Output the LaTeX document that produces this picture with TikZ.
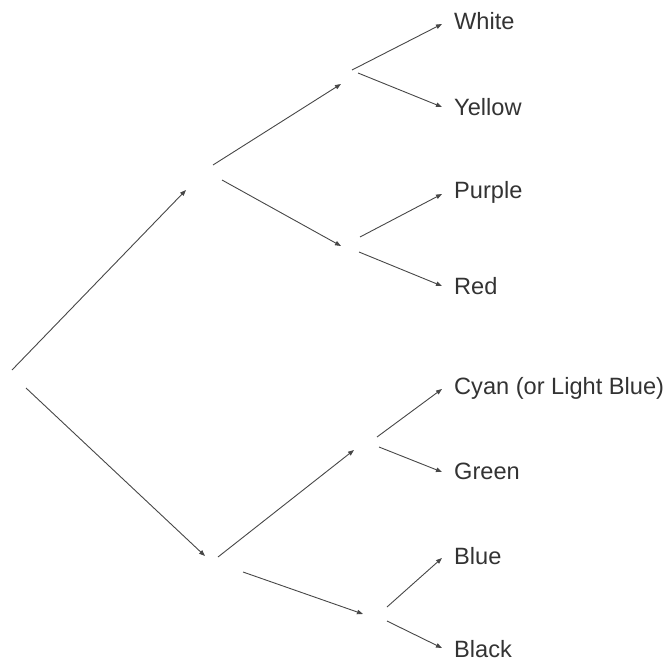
\documentclass[tikz,border=0pt]{standalone}
\usepackage{fontspec}
\setmainfont{Liberation Sans}
\usetikzlibrary{arrows.meta}
\tikzset{
  arr/.style={draw=black!72, line width=0.9pt, -{Triangle[length=6pt,width=4.5pt]}},
  lbl/.style={anchor=west, inner sep=0pt, font=\fontsize{23.6}{26}\selectfont, text=black!80}
}
\begin{document}
\begin{tikzpicture}[x=1pt,y=-1pt]
\useasboundingbox (0,0) rectangle (667,661);
% start points
\coordinate (s1) at (12,370);
\coordinate (s2) at (26,388);
\coordinate (e1) at (186,190);
\coordinate (e2) at (205,556);
% second level
\coordinate (a1) at (213,165);
\coordinate (a1e) at (341,84);
\coordinate (a2) at (222,180);
\coordinate (a2e) at (341,246);
\coordinate (b1) at (218,557);
\coordinate (b1e) at (354,450);
\coordinate (b2) at (243,572);
\coordinate (b2e) at (363,614);
% third level starts
\coordinate (w0) at (352,70);
\coordinate (y0) at (358,73);
\coordinate (p0) at (360,237);
\coordinate (r0) at (359,252);
\coordinate (c0) at (377,437);
\coordinate (g0) at (379,447);
\coordinate (bl0) at (387,607);
\coordinate (bk0) at (387,621);
% third level ends
\coordinate (w1) at (442,24);
\coordinate (y1) at (442,107);
\coordinate (p1) at (442,194);
\coordinate (r1) at (442,286);
\coordinate (c1) at (442,389);
\coordinate (g1) at (442,472);
\coordinate (bl1) at (442,558);
\coordinate (bk1) at (442,648);
% labels
\node[lbl] (white) at (454,21) {White};
\node[lbl] (yellow) at (454,107) {Yellow};
\node[lbl] (purple) at (454,192) {Purple};
\node[lbl] (red) at (454,286) {Red};
\node[lbl] (cyan) at (454,388) {Cyan (or Light Blue)};
\node[lbl] (green) at (454,471) {Green};
\node[lbl] (blue) at (454,556) {Blue};
\node[lbl] (black) at (454,649) {Black};
% arrows
\draw[arr] (s1) -- (e1);
\draw[arr] (s2) -- (e2);
\draw[arr] (a1) -- (a1e);
\draw[arr] (a2) -- (a2e);
\draw[arr] (b1) -- (b1e);
\draw[arr] (b2) -- (b2e);
\draw[arr] (w0) -- (w1);
\draw[arr] (y0) -- (y1);
\draw[arr] (p0) -- (p1);
\draw[arr] (r0) -- (r1);
\draw[arr] (c0) -- (c1);
\draw[arr] (g0) -- (g1);
\draw[arr] (bl0) -- (bl1);
\draw[arr] (bk0) -- (bk1);
\end{tikzpicture}
\end{document}
